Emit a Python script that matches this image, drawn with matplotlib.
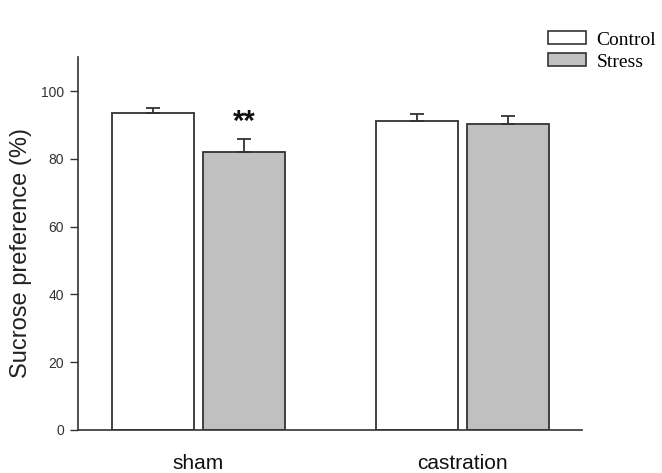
import matplotlib
matplotlib.use("Agg")
import matplotlib.pyplot as plt
import numpy as np
from matplotlib.patches import Patch

groups = ["sham", "castration"]
control_mean = [93.6, 91.2]
control_sem = [1.4, 1.9]
stress_mean = [81.9, 90.2]
stress_sem = [3.9, 2.6]
yticks = [0, 20, 40, 60, 80, 100]

edge = "#333333"
stress_color = "#c0c0c0"
sans = ["Liberation Sans", "DejaVu Sans"]
serif = ["Liberation Serif", "DejaVu Serif"]

fig = plt.figure(figsize=(6.62, 4.73), dpi=100)
ax = fig.add_axes([0.118, 0.091, 0.761, 0.788])

x = np.arange(1, len(groups) + 1)
width = 0.311
offset = 0.1723

ax.bar(x - offset, control_mean, width, color="white", edgecolor=edge, linewidth=1.3, zorder=2)
ax.bar(x + offset, stress_mean, width, color=stress_color, edgecolor=edge, linewidth=1.3, zorder=2)
ax.errorbar(x - offset, control_mean, yerr=[np.zeros(len(groups)), control_sem],
            fmt="none", ecolor=edge, elinewidth=1.3, capsize=5, capthick=1.3, zorder=3)
ax.errorbar(x + offset, stress_mean, yerr=[np.zeros(len(groups)), stress_sem],
            fmt="none", ecolor=edge, elinewidth=1.3, capsize=5, capthick=1.3, zorder=3)

# significance mark over sham / stress
ax.text(x[0] + offset, stress_mean[0] + stress_sem[0] + 1.0, "**", ha="center", va="bottom",
        fontsize=21, fontweight="bold", family=sans, color="#111111")

ax.set_xlim(0.544, 2.453)
ax.set_ylim(0, 110)
ax.set_yticks(yticks)
ax.set_yticklabels([str(t) for t in yticks], family=sans, fontsize=10, color="#333333")
ax.set_xticks(x)
ax.set_xticklabels(groups, family=sans, fontsize=15, color="#111111")
ax.tick_params(axis="x", length=0, pad=17)
ax.tick_params(axis="y", direction="out", length=6, width=1, color=edge, pad=4)
ax.set_ylabel("Sucrose preference (%)", family=sans, fontsize=17, color="#222222")
ax.yaxis.set_label_coords(-0.091, 0.475)

for side in ["top", "right"]:
    ax.spines[side].set_visible(False)
for side in ["left", "bottom"]:
    ax.spines[side].set_color(edge)
    ax.spines[side].set_linewidth(1.2)

handles = [Patch(facecolor="white", edgecolor=edge, linewidth=1.2, label="Control"),
           Patch(facecolor=stress_color, edgecolor=edge, linewidth=1.2, label="Stress")]
fig.legend(handles=handles, loc="upper left", bbox_to_anchor=(0.816, 0.95), frameon=False,
           prop={"family": serif, "size": 14}, handlelength=1.95, handleheight=0.62,
           handletextpad=0.55, labelspacing=0.25, borderaxespad=0)

fig.savefig("out.png", dpi=100)
